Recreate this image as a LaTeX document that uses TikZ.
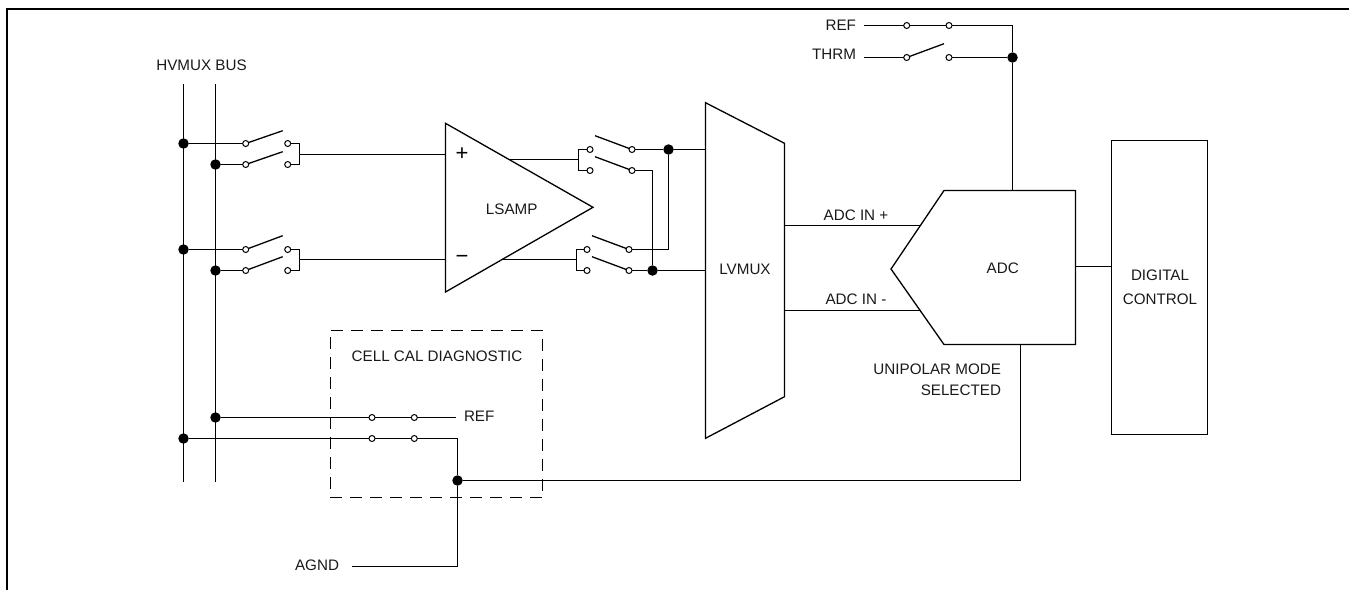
\documentclass[tikz,border=0pt]{standalone}
\usepackage{fontspec}
\setmainfont{Liberation Sans}
\tikzset{
  wire/.style={draw=black,line width=1.3pt,line join=miter},
  block/.style={draw=black,line width=1.3pt,line join=miter,fill=none},
  frameline/.style={draw=black,line width=2.2pt},
  dashbox/.style={draw=black,line width=1.3pt,dash pattern=on 12pt off 8pt},
  dot/.style={circle,fill=black,draw=none,minimum size=10.5pt,inner sep=0pt,outer sep=0pt},
  contact/.style={circle,draw=black,fill=white,line width=1pt,minimum size=6pt,inner sep=0pt,outer sep=0pt},
  lbl/.style={inner sep=0pt,outer sep=0pt,font=\fontsize{15.2pt}{18pt}\selectfont,text=black!90},
  sign/.style={inner sep=0pt,outer sep=0pt,font=\fontsize{22pt}{22pt}\selectfont,text=black},
}
\begin{document}
\begin{tikzpicture}[x=1pt,y=-1pt]
\useasboundingbox (0,0) rectangle (1349,590);
% frame
\coordinate (fa) at (7,590); \coordinate (fb) at (7,9); \coordinate (fc) at (1349,9);
\draw[frameline] (fa) -- (fb) -- (fc);
% bus
\coordinate (busLt) at (183.5,84); \coordinate (busLb) at (183.5,481.5);
\coordinate (busRt) at (215.5,84); \coordinate (busRb) at (215.5,481.5);
\draw[wire] (busLt) -- (busLb);
\draw[wire] (busRt) -- (busRb);
% junctions
\node[dot] (d1) at (183.5,143.5) {};
\node[dot] (d2) at (215.5,164.5) {};
\node[dot] (d3) at (183.5,249.5) {};
\node[dot] (d4) at (215.5,270.5) {};
\node[dot] (d5) at (215.5,417.5) {};
\node[dot] (d6) at (183.5,438.5) {};
\node[dot] (d7) at (457.5,480.5) {};
\node[dot] (d8) at (668.5,149.5) {};
\node[dot] (d9) at (652.5,270.5) {};
\node[dot] (d10) at (1012.5,57.5) {};
% input switches
\node[contact] (a1) at (245.7,143.5) {}; \node[contact] (b1) at (287.7,143.5) {};
\node[contact] (a2) at (245.7,164.5) {}; \node[contact] (b2) at (287.7,164.5) {};
\node[contact] (a3) at (245.7,249.5) {}; \node[contact] (b3) at (287.7,249.5) {};
\node[contact] (a4) at (245.7,270.5) {}; \node[contact] (b4) at (287.7,270.5) {};
\coordinate (e1) at (282.7,130.7); \coordinate (e2) at (282.7,151.7);
\coordinate (e3) at (282.7,235.7); \coordinate (e4) at (282.7,256.7);
\draw[wire] (d1) -- (a1); \draw[wire] (d2) -- (a2);
\draw[wire] (d3) -- (a3); \draw[wire] (d4) -- (a4);
\draw[wire] (a1) -- (e1); \draw[wire] (a2) -- (e2);
\draw[wire] (a3) -- (e3); \draw[wire] (a4) -- (e4);
\coordinate (j1) at (299.5,154.5); \coordinate (j2) at (299.5,259.5);
\draw[wire] (b1) -| (j1); \draw[wire] (b2) -| (j1);
\draw[wire] (b3) -| (j2); \draw[wire] (b4) -| (j2);
% amplifier
\coordinate (at) at (445.5,123.3); \coordinate (ab) at (445.5,292); \coordinate (ao) at (593,207.3);
\draw[block] (at) -- (ao) -- (ab) -- cycle;
\coordinate (ip) at (445.5,154.5); \coordinate (im) at (445.5,259.5);
\draw[wire] (j1) -- (ip); \draw[wire] (j2) -- (im);
\node[lbl] (lsamp) at (511.7,209.3) {LSAMP};
\node[sign] (plus) at (462,154) {+};
\node[sign] (minus) at (462,259.7) {−};
% output switches
\node[contact] (c1) at (590,149.5) {}; \node[contact] (f1) at (632,149.5) {};
\node[contact] (c2) at (590,170.5) {}; \node[contact] (f2) at (632,170.5) {};
\node[contact] (c3) at (587,249.5) {}; \node[contact] (f3) at (629,249.5) {};
\node[contact] (c4) at (587,270.5) {}; \node[contact] (f4) at (629,270.5) {};
\coordinate (g1) at (595,135.7); \coordinate (g2) at (595,156.7);
\coordinate (g3) at (592,235.7); \coordinate (g4) at (592,256.7);
\draw[wire] (f1) -- (g1); \draw[wire] (f2) -- (g2);
\draw[wire] (f3) -- (g3); \draw[wire] (f4) -- (g4);
\coordinate (o1) at (508,159.5); \coordinate (o2) at (503,259.5);
\coordinate (k1) at (578.5,159.5); \coordinate (k2) at (576.5,259.5);
\draw[wire] (o1) -- (k1); \draw[wire] (o2) -- (k2);
\draw[wire] (c1) -| (k1); \draw[wire] (c2) -| (k1);
\draw[wire] (c3) -| (k2); \draw[wire] (c4) -| (k2);
\draw[wire] (f1) -- (d8);
\draw[wire] (f4) -- (d9);
\draw[wire] (f2) -| (d9);
\draw[wire] (f3) -| (d8);
% LVMUX
\coordinate (m1) at (705.5,102.7); \coordinate (m2) at (784.5,143.3);
\coordinate (m3) at (784.5,396.7); \coordinate (m4) at (705.5,438.3);
\draw[block] (m1) -- (m2) -- (m3) -- (m4) -- cycle;
\coordinate (mi1) at (705.5,149.5); \coordinate (mi2) at (705.5,270.5);
\draw[wire] (d8) -- (mi1); \draw[wire] (d9) -- (mi2);
\node[lbl] (lvmux) at (745,269) {LVMUX};
% ADC
\coordinate (n1) at (944,190.5); \coordinate (n2) at (1075.5,190.5);
\coordinate (n3) at (1075.5,344.5); \coordinate (n4) at (944,344.5); \coordinate (n5) at (891,269);
\draw[block] (n1) -- (n2) -- (n3) -- (n4) -- (n5) -- cycle;
\node[lbl] (adc) at (1002.7,268.7) {ADC};
\coordinate (mo1) at (784.5,225.5); \coordinate (ai1) at (920.3,225.5);
\coordinate (mo2) at (784.5,310.5); \coordinate (ai2) at (920.3,310.5);
\draw[wire] (mo1) -- (ai1); \draw[wire] (mo2) -- (ai2);
\node[lbl] (lp) at (856,215) {ADC IN +};
\node[lbl] (lm) at (856,299) {ADC IN -};
\node[lbl,anchor=east] (uni) at (1001,369) {UNIPOLAR MODE};
\node[lbl,anchor=east] (sel) at (1001,390.7) {SELECTED};
% digital control
\node[block,minimum width=96pt,minimum height=294pt,inner sep=0pt,outer sep=0pt] (dig) at (1159.5,287.5) {};
\node[lbl] (dg1) at (1160,275.7) {DIGITAL};
\node[lbl] (dg2) at (1160,299) {CONTROL};
\coordinate (ao2) at (1075.5,266.5);
\draw[wire] (ao2) -- (ao2 -| dig.west);
% top switches
\node[lbl,anchor=east] (lref) at (856,25.5) {REF};
\node[lbl,anchor=east] (lth) at (856,54.5) {THRM};
\coordinate (w1) at (864.3,25.5); \coordinate (w2) at (864.3,57.5);
\node[contact] (t1) at (906.7,25.5) {}; \node[contact] (t2) at (949,25.5) {};
\node[contact] (t3) at (906.7,57.5) {}; \node[contact] (t4) at (949,57.5) {};
\coordinate (t5) at (944,43.7); \coordinate (tc) at (1012.5,25.5); \coordinate (adct) at (1012.5,190.5);
\draw[wire] (w1) -- (t1); \draw[wire] (t1) -- (t2);
\draw[wire] (t2) -- (tc) -- (d10);
\draw[wire] (w2) -- (t3); \draw[wire] (t3) -- (t5);
\draw[wire] (t4) -- (d10);
\draw[wire] (d10) -- (adct);
% CAL box
\coordinate (q1) at (330.5,330.5); \coordinate (q2) at (542.5,330.5);
\coordinate (q3) at (542.5,497.5); \coordinate (q4) at (330.5,497.5);
\draw[dashbox] (q1) -- (q2) -- (q3) -- (q4) -- cycle;
\node[lbl] (cal) at (437,356.7) {CELL CAL DIAGNOSTIC};
\node[contact] (r1) at (372,417.5) {}; \node[contact] (r2) at (414.3,417.5) {};
\node[contact] (r3) at (372,438.5) {}; \node[contact] (r4) at (414.3,438.5) {};
\coordinate (rf) at (456.3,417.5);
\node[lbl,anchor=west] (lref2) at (464,416.7) {REF};
\draw[wire] (d5) -- (r1); \draw[wire] (r1) -- (r2); \draw[wire] (r2) -- (rf);
\draw[wire] (d6) -- (r3); \draw[wire] (r3) -- (r4);
\draw[wire] (r4) -| (d7);
% bottom
\coordinate (ad) at (1020.5,344.5);
\draw[wire] (ad) |- (d7);
\node[lbl,anchor=east] (agnd) at (339,565.7) {AGND};
\coordinate (ag) at (352.3,566.5);
\draw[wire] (ag) -| (d7);
% bus label
\node[lbl] (bus) at (201.5,65) {HVMUX BUS};
\end{tikzpicture}
\end{document}
